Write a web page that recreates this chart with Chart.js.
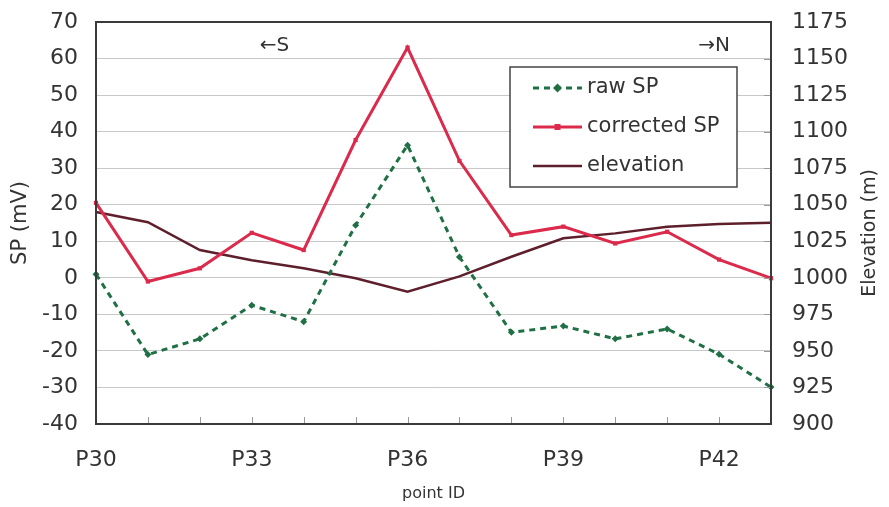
<!DOCTYPE html>
<html>
<head>
<meta charset="utf-8">
<script src="https://cdn.jsdelivr.net/npm/chart.js@4.4.0/dist/chart.umd.min.js"></script>
<style>
  html, body { margin: 0; padding: 0; background: #fff; }
  #wrap { width: 889px; height: 507px; }
</style>
</head>
<body>
<div id="wrap"><canvas id="spChart" width="889" height="507"></canvas></div>
<script>
// survey points along the line, S -> N
const pointIds = ['P30', 'P31', 'P32', 'P33', 'P34', 'P35', 'P36', 'P37', 'P38', 'P39', 'P40', 'P41', 'P42', 'P43'];
const rawSP = [1, -21, -16.7, -7.5, -12, 14.4, 36.3, 5.7, -14.9, -13.2, -16.7, -14, -20.9, -29.9];
const correctedSP = [20.5, -1, 2.6, 12.3, 7.6, 37.7, 63, 32, 11.7, 14, 9.4, 12.6, 5, -0.1];
const elevation = [1045, 1038, 1019, 1012, 1006.5, 999.7, 990.5, 1001, 1014.4, 1027, 1030.4, 1035, 1036.8, 1037.7];
const elevTicks = [900, 925, 950, 975, 1000, 1025, 1050, 1075, 1100, 1125, 1150, 1175];

const FONT = 'DejaVu Sans';
const TEXT = '#333';
const GREEN = '#1f7045';
const RED = '#db2a4b';
const BROWN = '#5e1f2c';

Chart.defaults.font.family = FONT;
Chart.defaults.color = TEXT;

// frame, inward tick marks, direction marks and right axis title
const frameAndLabels = {
    id: 'frameAndLabels',
    afterDraw(chart) {
        const { ctx, chartArea: a, scales } = chart;
        ctx.save();
        ctx.strokeStyle = '#9a9a9a';
        ctx.lineWidth = 1;
        ctx.beginPath();
        pointIds.forEach((_, i) => {
            const x = Math.round(scales.x.getPixelForValue(i)) + 0.5;
            ctx.moveTo(x, a.bottom);
            ctx.lineTo(x, a.bottom - 7);
        });
        elevTicks.forEach((v) => {
            const y = Math.round(scales.y1.getPixelForValue(v)) + 0.5;
            ctx.moveTo(a.right, y);
            ctx.lineTo(a.right - 7, y);
        });
        ctx.stroke();

        ctx.strokeStyle = '#3a3a3a';
        ctx.lineWidth = 2;
        ctx.strokeRect(a.left, a.top, a.right - a.left, a.bottom - a.top);

        ctx.fillStyle = TEXT;
        ctx.font = '20px ' + FONT;
        ctx.textBaseline = 'middle';
        ctx.textAlign = 'left';
        ctx.fillText('←S', scales.x.getPixelForValue(3) + 8, a.top + 24);
        ctx.textAlign = 'right';
        ctx.fillText('→N', a.right - 41, a.top + 24);

        ctx.font = '19px ' + FONT;
        ctx.textAlign = 'center';
        ctx.translate(870, 233);
        ctx.rotate(-Math.PI / 2);
        ctx.fillText('Elevation (m)', 0, 0);
        ctx.restore();
    }
};

// boxed legend inside the plot area
const boxLegend = {
    id: 'boxLegend',
    afterDraw(chart) {
        const { ctx, chartArea: a } = chart;
        const x0 = a.right - 261, y0 = a.top + 45, w = 227, h = 120;
        ctx.save();
        ctx.fillStyle = '#fff';
        ctx.fillRect(x0, y0, w, h);
        ctx.strokeStyle = '#444';
        ctx.lineWidth = 1.5;
        ctx.strokeRect(x0, y0, w, h);

        chart.data.datasets.forEach((ds, i) => {
            const y = y0 + 21 + i * 39;
            const lx0 = x0 + 23, lx1 = x0 + 72;
            ctx.strokeStyle = ds.borderColor;
            ctx.lineWidth = ds.borderWidth;
            ctx.setLineDash(ds.borderDash || []);
            ctx.beginPath();
            ctx.moveTo(lx0, y);
            ctx.lineTo(lx1, y);
            ctx.stroke();
            ctx.setLineDash([]);
            if (ds.pointRadius > 0) {
                const mx = (lx0 + lx1) / 2, r = ds.pointRadius;
                ctx.fillStyle = ds.borderColor;
                ctx.beginPath();
                if (ds.pointStyle === 'rectRot') {
                    ctx.moveTo(mx, y - r - 1);
                    ctx.lineTo(mx + r + 1, y);
                    ctx.lineTo(mx, y + r + 1);
                    ctx.lineTo(mx - r - 1, y);
                } else {
                    ctx.rect(mx - r, y - r, 2 * r, 2 * r);
                }
                ctx.fill();
            }
            ctx.fillStyle = TEXT;
            ctx.font = '21px ' + FONT;
            ctx.textAlign = 'left';
            ctx.textBaseline = 'middle';
            ctx.fillText(ds.label, x0 + 77, y);
        });
        ctx.restore();
    }
};

// drop the label-overhang padding so the plot area edges are set by layout only
function noOverhang(scale) {
    scale.paddingTop = 0;
    scale.paddingBottom = 0;
    scale.paddingLeft = 0;
    scale.paddingRight = 0;
}

const ctx = document.getElementById('spChart').getContext('2d');
new Chart(ctx, {
    type: 'line',
    data: {
        labels: pointIds,
        datasets: [
            {
                label: 'raw SP',
                data: rawSP,
                yAxisID: 'y',
                borderColor: GREEN,
                backgroundColor: GREEN,
                borderWidth: 3,
                borderDash: [6, 5],
                pointStyle: 'rectRot',
                pointRadius: 3.5,
                pointBorderWidth: 0,
                tension: 0,
            },
            {
                label: 'corrected SP',
                data: correctedSP,
                yAxisID: 'y',
                borderColor: RED,
                backgroundColor: RED,
                borderWidth: 3,
                pointStyle: 'rect',
                pointRadius: 3,
                pointBorderWidth: 0,
                tension: 0,
            },
            {
                label: 'elevation',
                data: elevation,
                yAxisID: 'y1',
                borderColor: BROWN,
                backgroundColor: BROWN,
                borderWidth: 2.5,
                pointRadius: 0,
                tension: 0,
            },
        ],
    },
    options: {
        responsive: false,
        animation: false,
        devicePixelRatio: 1,
        layout: { padding: { top: 22, left: 0, right: 0, bottom: 0 } },
        plugins: {
            legend: { display: false },
            tooltip: { enabled: false },
        },
        scales: {
            x: {
                offset: false,
                grid: { display: false, drawTicks: false },
                border: { display: false },
                ticks: {
                    autoSkip: false,
                    maxRotation: 0,
                    padding: 23,
                    color: TEXT,
                    font: { size: 22 },
                    callback: function (value, index) {
                        return index % 3 === 0 ? this.getLabelForValue(value) : '';
                    },
                },
                title: {
                    display: true,
                    text: 'point ID',
                    color: TEXT,
                    font: { size: 16 },
                    padding: { top: 0, bottom: 4 },
                },
                afterFit(scale) { scale.height = 83; noOverhang(scale); },
            },
            y: {
                position: 'left',
                min: -40,
                max: 70,
                ticks: { stepSize: 10, padding: 18, color: TEXT, font: { size: 22 } },
                grid: { color: '#c8c8c8', lineWidth: 1, drawTicks: false },
                border: { display: false },
                title: {
                    display: true,
                    text: 'SP (mV)',
                    color: TEXT,
                    font: { size: 21 },
                    padding: { top: 8, bottom: 0 },
                },
                afterFit(scale) { scale.width = 96; noOverhang(scale); },
            },
            y1: {
                position: 'right',
                min: 900,
                max: 1175,
                ticks: {
                    stepSize: 25,
                    padding: 21,
                    color: TEXT,
                    font: { size: 22 },
                    callback: (value) => String(value),
                },
                grid: { drawOnChartArea: false, drawTicks: false },
                border: { display: false },
                afterFit(scale) { scale.width = 118; noOverhang(scale); },
            },
        },
    },
    plugins: [frameAndLabels, boxLegend],
});
</script>
</body>
</html>
